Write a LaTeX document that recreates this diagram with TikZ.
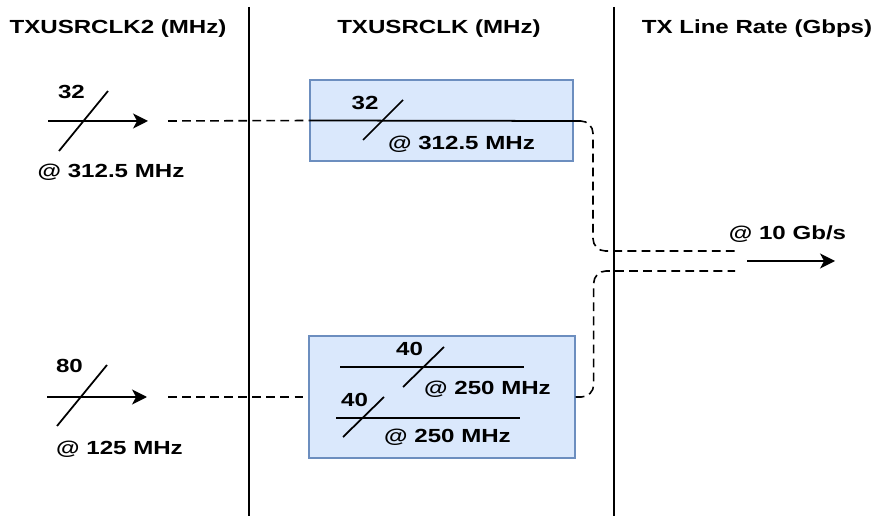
\documentclass[tikz,border=0pt]{standalone}
\usepackage{fontspec}
\setmainfont{Liberation Sans}[FakeStretch=1.27]
\usetikzlibrary{arrows.meta}
\definecolor{boxfill}{HTML}{DAE8FC}
\definecolor{boxline}{HTML}{6C8EBF}

\begin{document}
\begin{tikzpicture}[x=0.02cm, y=-0.02cm,
  lbl/.style={anchor=base, inner sep=0pt, font=\fontsize{10.8}{13}\selectfont\bfseries},
  regbox/.style={draw=boxline, fill=boxfill, line width=0.8pt, inner sep=0pt, minimum width=5.26cm, minimum height=1.62cm},
  bus/.style={line width=1pt},
  arrow/.style={-{Stealth[length=8.5pt,width=8.5pt,inset=2.3pt]}, line width=1pt},
  link/.style={dash pattern=on 5pt off 3pt, line width=0.9pt, rounded corners=7pt},
  sep/.style={line width=1.1pt}
]
\useasboundingbox (0,0) rectangle (875,516);

\node[lbl] (hd2) at (118,33.5) {TXUSRCLK2 (MHz)};
\node[lbl] (hd1) at (439,33.5) {TXUSRCLK (MHz)};
\node[lbl] (hdr) at (757,33.5) {TX Line Rate (Gbps)};

\draw[sep] (249,7) -- (249,516);
\draw[sep] (614,7) -- (614,516);

\node[regbox] (fastbox) at (441.5,120.5) {};
\node[regbox, minimum width=5.32cm, minimum height=2.44cm] (slowbox) at (442,397) {};

\coordinate (in1) at (48,121);
\coordinate (in1e) at (148,121);
\coordinate (d1) at (168,121);
\coordinate (j1) at (578,121);
\coordinate (o1) at (738,251);
\coordinate (in2) at (47,397);
\coordinate (in2e) at (147,397);
\coordinate (d2) at (168,397);
\coordinate (o2) at (735,271);
\coordinate (out) at (747,261);
\coordinate (oute) at (835,261);

\draw[arrow] (in1) -- (in1e);
\draw[bus] (59,151) -- (108,91);
\node[lbl] (w1) at (71.5,99) {32};
\node[lbl] (f1) at (111,178) {@ 312.5 MHz};

\draw[arrow] (in2) -- (in2e);
\draw[bus] (57,426) -- (107,365);
\node[lbl] (w2) at (69.5,373) {80};
\node[lbl] (f2) at (119.5,455) {@ 125 MHz};

\draw[link] (d1) -- (fastbox.west);
\draw[link] (d2) -- (slowbox.west);

\draw[bus] (fastbox.west) -- (j1);
\draw[bus] (363,140) -- (403,100);
\node[lbl] (w3) at (365,110) {32};
\node[lbl] (f3) at (461.5,150) {@ 312.5 MHz};

\draw[bus] (340,367) -- (524,367);
\draw[bus] (403,387) -- (444,347);
\node[lbl] (w4) at (409.5,356) {40};
\node[lbl] (f4) at (487.5,395) {@ 250 MHz};

\draw[bus] (336,418) -- (520,418);
\draw[bus] (343,437) -- (384,397);
\node[lbl] (w5) at (354.5,407) {40};
\node[lbl] (f5) at (447.5,442) {@ 250 MHz};

\draw[link] (j1) -- ++(15,0) |- (o1);
\draw[link] (slowbox.east) -- ++(18,0) |- (o2);

\draw[arrow] (out) -- (oute);
\node[lbl] (rate) at (787.5,240) {@ 10 Gb/s};
\end{tikzpicture}
\end{document}
